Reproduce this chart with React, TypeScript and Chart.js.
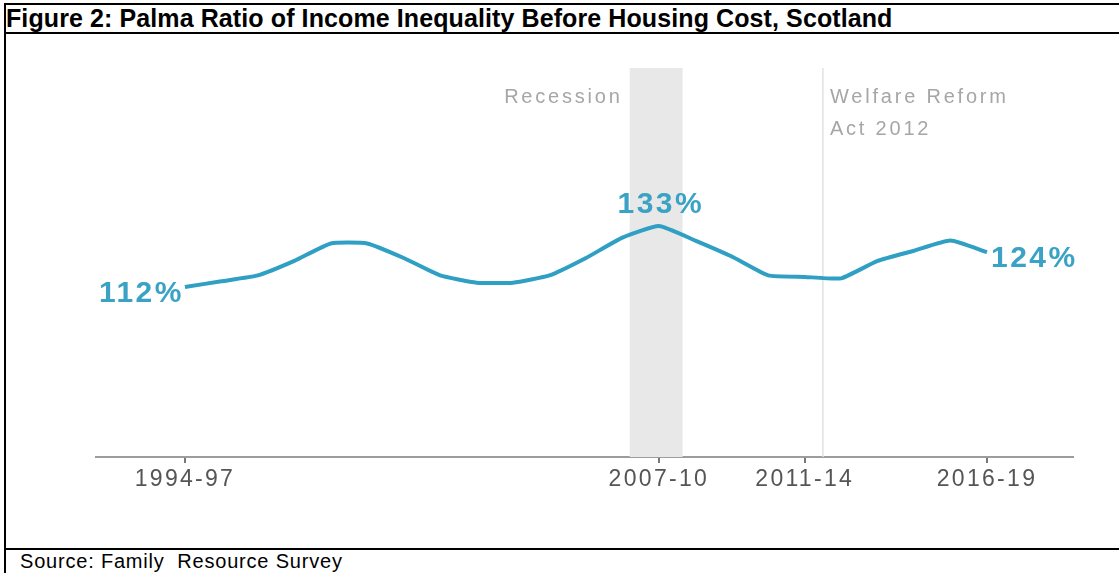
import React, { useEffect, useRef } from 'react';
import { Chart, registerables } from 'chart.js';

Chart.register(...registerables);

const periods = [
  '1994-97', '1995-98', '1996-99', '1997-00', '1998-01', '1999-02', '2000-03', '2001-04',
  '2002-05', '2003-06', '2004-07', '2005-08', '2006-09', '2007-10', '2008-11', '2009-12',
  '2010-13', '2011-14', '2012-15', '2013-16', '2014-17', '2015-18', '2016-19',
];
const palma = [
  112, 114, 116, 121, 127, 127, 122, 116,
  113.5, 113.5, 116, 122, 129, 133, 128, 122.5,
  116, 115.5, 115, 121, 124.5, 128, 124,
];
const tickPeriods = ['1994-97', '2007-10', '2011-14', '2016-19'];
const labelledPeriods = ['1994-97', '2007-10', '2016-19'];
const recessionSpan = [12.2, 13.65];
const welfareReformAt = 17.5;
const recessionText = 'Recession';
const welfareText = ['Welfare Reform', 'Act 2012'];

const FONT = '"Liberation Sans", Arial, sans-serif';

const annotationPlugin = {
  id: 'annot',
  beforeDraw(chart: any) {
    chart.ctx.letterSpacing = '2.3px';
  },
  beforeDatasetsDraw(chart: any) {
    const { ctx, chartArea, scales } = chart;
    const x = scales.x;
    const { top, bottom } = chartArea;
    ctx.save();
    const x0 = x.getPixelForValue(recessionSpan[0]);
    const x1 = x.getPixelForValue(recessionSpan[1]);
    ctx.fillStyle = '#e8e8e8';
    ctx.fillRect(x0, top, x1 - x0, bottom - top);
    const xw = x.getPixelForValue(welfareReformAt);
    ctx.strokeStyle = '#e2e2e2';
    ctx.lineWidth = 1.5;
    ctx.beginPath();
    ctx.moveTo(xw, top);
    ctx.lineTo(xw, bottom);
    ctx.stroke();
    ctx.fillStyle = '#a6a6a6';
    ctx.font = `20px ${FONT}`;
    ctx.letterSpacing = '2.8px';
    ctx.textBaseline = 'middle';
    ctx.textAlign = 'right';
    ctx.fillText(recessionText, x0 - 7, top + 29);
    ctx.textAlign = 'left';
    ctx.fillText(welfareText[0], xw + 7, top + 29);
    ctx.fillText(welfareText[1], xw + 7, top + 61);
    ctx.restore();
  },
  afterDatasetsDraw(chart: any) {
    const { ctx, scales } = chart;
    const x = scales.x;
    const y = scales.y;
    ctx.save();
    ctx.fillStyle = '#3aa2c4';
    ctx.font = `bold 30px ${FONT}`;
    ctx.letterSpacing = '2.5px';
    ctx.textBaseline = 'middle';
    labelledPeriods.forEach((p, k) => {
      const i = periods.indexOf(p);
      const px = x.getPixelForValue(i);
      const py = y.getPixelForValue(palma[i]);
      const txt = `${Math.round(palma[i])}%`;
      if (k === 0) {
        ctx.textAlign = 'right';
        ctx.fillText(txt, px - 1, py + 7);
      } else if (k === labelledPeriods.length - 1) {
        ctx.textAlign = 'left';
        ctx.fillText(txt, px + 4, py + 7);
      } else {
        ctx.textAlign = 'center';
        ctx.fillText(txt, px + 2, py - 21);
      }
    });
    ctx.restore();
  },
};

function LineChart() {
  const ref = useRef<HTMLCanvasElement>(null);
  useEffect(() => {
    const chart = new Chart(ref.current!, {
      type: 'line',
      data: {
        datasets: [
          {
            data: palma.map((v, i) => ({ x: i, y: v })),
            borderColor: '#2f9fc3',
            borderWidth: 4,
            pointRadius: 0,
            tension: 0.15,
            fill: false,
          },
        ],
      },
      options: {
        animation: false,
        responsive: false,
        maintainAspectRatio: false,
        layout: { padding: { left: 96, right: 46, top: 34, bottom: 31 } },
        plugins: { legend: { display: false }, tooltip: { enabled: false } },
        scales: {
          x: {
            type: 'linear',
            min: -2.44,
            max: 24.36,
            afterBuildTicks: (s: any) => {
              s.ticks = tickPeriods.map((p) => ({ value: periods.indexOf(p) }));
            },
            afterFit: (s: any) => {
              s.height = 60;
            },
            ticks: {
              autoSkip: false,
              maxRotation: 0,
              color: '#555555',
              padding: 3,
              font: { family: FONT, size: 23 },
              callback: (v: any) => periods[v as number] ?? '',
            },
            grid: { drawOnChartArea: false, drawTicks: true, tickLength: 6, color: '#777', lineWidth: 2 },
            border: { display: true, color: '#9c9c9c', width: 2 },
          },
          y: { display: false, min: 53.5, max: 187.4 },
        },
      },
      plugins: [annotationPlugin],
    });
    return () => chart.destroy();
  }, []);
  return <canvas ref={ref} width={1119} height={514} style={{ display: 'block', width: 1119, height: 514 }} />;
}

export default function App() {
  const line = (top: number) => (
    <div style={{ position: 'absolute', left: 4, right: 0, top, height: 2, background: '#000' }} />
  );
  return (
    <div style={{ position: 'fixed', left: 0, top: 0, width: 1119, height: 573, background: '#fff', overflow: 'hidden' }}>
      {line(3)}
      {line(32)}
      {line(548)}
      <div style={{ position: 'absolute', left: 4, top: 3, width: 2, bottom: 0, background: '#000' }} />
      <div
        style={{
          position: 'absolute', left: 6, top: 4, fontFamily: FONT, fontWeight: 'bold', fontSize: 25,
          lineHeight: '28px', letterSpacing: '0.1px', color: '#000', whiteSpace: 'nowrap',
        }}
      >
        Figure 2: Palma Ratio of Income Inequality Before Housing Cost, Scotland
      </div>
      <div style={{ position: 'absolute', left: 0, top: 34 }}>
        <LineChart />
      </div>
      <div
        style={{
          position: 'absolute', left: 20, top: 550, fontFamily: FONT, fontSize: 20, lineHeight: '23px',
          letterSpacing: '0.8px', color: '#000', whiteSpace: 'pre',
        }}
      >
        Source: Family  Resource Survey
      </div>
    </div>
  );
}
